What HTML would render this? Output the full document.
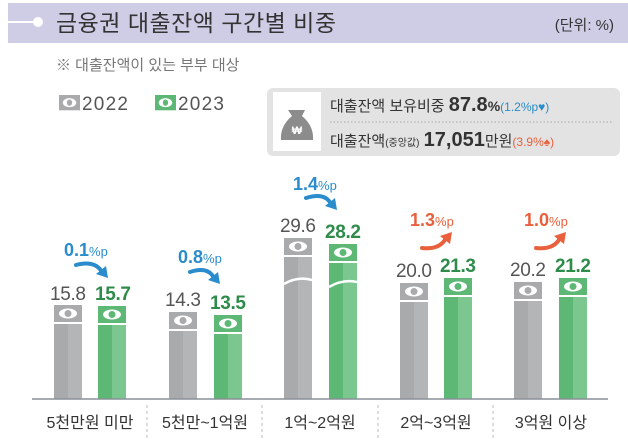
<!DOCTYPE html>
<html><head><meta charset="utf-8"><style>
body{margin:0;background:#fff;}
svg{display:block;font-family:"Liberation Sans","Noto Sans CJK KR",sans-serif;}
</style></head><body>
<svg width="628" height="448" viewBox="0 0 628 448">
<defs>
<g id="gbar"><rect x="0" y="0" width="28" height="17" fill="#a9aaac"/><ellipse cx="14" cy="8.5" rx="9" ry="5" fill="#fff"/><circle cx="14" cy="8.5" r="3.5" fill="#a9aaac"/></g>
<g id="grbar"><rect x="0" y="0" width="28" height="17" fill="#5cb874"/><ellipse cx="14" cy="8.5" rx="9" ry="5" fill="#fff"/><circle cx="14" cy="8.5" r="3.5" fill="#5cb874"/></g>
</defs>
<rect x="8" y="3" width="620" height="40" fill="#cfcde5"/>
<line x1="0" y1="22" x2="36" y2="22" stroke="#fff" stroke-width="2"/>
<circle cx="38" cy="22" r="5" fill="#fff"/>
<text x="56" y="31" font-size="23" fill="#333" textLength="280">금융권 대출잔액 구간별 비중</text>
<text x="614" y="30" font-size="15" fill="#333" text-anchor="end">(단위: %)</text>
<text x="56" y="70" font-size="15" fill="#777">※ 대출잔액이 있는 부부 대상</text>
<use href="#gbar" transform="translate(59,95) scale(0.75,0.9)"/>
<text x="82" y="110" font-size="19" fill="#555" textLength="46">2022</text>
<use href="#grbar" transform="translate(155,95) scale(0.75,0.9)"/>
<text x="178" y="110" font-size="19" fill="#555" textLength="46">2023</text>
<rect x="267" y="88" width="353" height="68" rx="6" fill="#e3e3e3"/>
<rect x="273" y="92" width="48" height="59" fill="#fff"/>
<path d="M288 110 L305 110 L302 116 Q314 126 313 140 L281 140 Q280 126 292 116 Z" fill="#8c8c8c"/>
<text x="297" y="134" font-size="11" font-weight="bold" fill="#fff" text-anchor="middle">₩</text>
<line x1="330" y1="122" x2="612" y2="122" stroke="#aaa" stroke-dasharray="1.5,2"/>
<text x="330" y="111" font-size="15" fill="#333">대출잔액 보유비중 <tspan font-size="20" font-weight="bold">87.8</tspan><tspan font-size="14" font-weight="bold">%</tspan><tspan font-size="12" fill="#2a8ccc">(1.2%p♥)</tspan></text>
<text x="330" y="146" font-size="15" fill="#333">대출잔액<tspan font-size="10">(중앙값)</tspan> <tspan font-size="20" font-weight="bold">17,051</tspan>만원<tspan font-size="12" fill="#e8603c">(3.9%♠)</tspan></text>
<g>
<use href="#gbar" x="54" y="305"/><rect x="54" y="324" width="28" height="75" fill="#a9aaac"/><rect x="68" y="324" width="14" height="75" fill="#b4b5b7"/>
<use href="#grbar" x="98" y="306"/><rect x="98" y="325" width="28" height="74" fill="#5cb874"/><rect x="112" y="325" width="14" height="74" fill="#7cc690"/>
<use href="#gbar" x="169" y="312"/><rect x="169" y="331" width="28" height="68" fill="#a9aaac"/><rect x="183" y="331" width="14" height="68" fill="#b4b5b7"/>
<use href="#grbar" x="214" y="315"/><rect x="214" y="334" width="28" height="65" fill="#5cb874"/><rect x="228" y="334" width="14" height="65" fill="#7cc690"/>
<use href="#gbar" x="284" y="238"/><rect x="284" y="257" width="28" height="142" fill="#a9aaac"/><rect x="298" y="257" width="14" height="142" fill="#b4b5b7"/>
<path d="M284 284 Q298 276 312 280" stroke="#fff" stroke-width="2.5" fill="none"/>
<use href="#grbar" x="329" y="244"/><rect x="329" y="263" width="28" height="136" fill="#5cb874"/><rect x="343" y="263" width="14" height="136" fill="#7cc690"/>
<path d="M329 287 Q343 279 357 282" stroke="#fff" stroke-width="2.5" fill="none"/>
<use href="#gbar" x="400" y="283"/><rect x="400" y="302" width="28" height="97" fill="#a9aaac"/><rect x="414" y="302" width="14" height="97" fill="#b4b5b7"/>
<use href="#grbar" x="444" y="278"/><rect x="444" y="297" width="28" height="102" fill="#5cb874"/><rect x="458" y="297" width="14" height="102" fill="#7cc690"/>
<use href="#gbar" x="514" y="282"/><rect x="514" y="301" width="28" height="98" fill="#a9aaac"/><rect x="528" y="301" width="14" height="98" fill="#b4b5b7"/>
<use href="#grbar" x="559" y="278"/><rect x="559" y="297" width="28" height="102" fill="#5cb874"/><rect x="573" y="297" width="14" height="102" fill="#7cc690"/>
</g>
<line x1="32" y1="399" x2="608" y2="399" stroke="#8a8f98" stroke-width="1.5"/>
<g font-size="19">
<text x="68" y="300" fill="#555" text-anchor="middle" textLength="36">15.8</text>
<text x="113" y="300" fill="#2e8b4a" font-weight="bold" text-anchor="middle" textLength="36">15.7</text>
<text x="183" y="306" fill="#555" text-anchor="middle" textLength="36">14.3</text>
<text x="228" y="309" fill="#2e8b4a" font-weight="bold" text-anchor="middle" textLength="36">13.5</text>
<text x="298" y="232" fill="#555" text-anchor="middle" textLength="36">29.6</text>
<text x="343" y="238" fill="#2e8b4a" font-weight="bold" text-anchor="middle" textLength="36">28.2</text>
<text x="414" y="277" fill="#555" text-anchor="middle" textLength="36">20.0</text>
<text x="458" y="272" fill="#2e8b4a" font-weight="bold" text-anchor="middle" textLength="36">21.3</text>
<text x="528" y="276" fill="#555" text-anchor="middle" textLength="36">20.2</text>
<text x="573" y="272" fill="#2e8b4a" font-weight="bold" text-anchor="middle" textLength="36">21.2</text>
</g>
<g font-size="18" font-weight="bold">
<text x="64" y="256" fill="#2a8ccc">0.1<tspan font-size="13" font-weight="normal">%p</tspan></text>
<text x="178" y="263" fill="#2a8ccc">0.8<tspan font-size="13" font-weight="normal">%p</tspan></text>
<text x="293" y="190" fill="#2a8ccc">1.4<tspan font-size="13" font-weight="normal">%p</tspan></text>
<text x="410" y="226" fill="#e8603c">1.3<tspan font-size="13" font-weight="normal">%p</tspan></text>
<text x="524" y="226" fill="#e8603c">1.0<tspan font-size="13" font-weight="normal">%p</tspan></text>
</g>
<g fill="none" stroke-width="4" stroke-linecap="round">
<path d="M76 265 Q95 260 102 272" stroke="#2a8ccc"/><path d="M96 274 L108 278 L106 266 Z" fill="#2a8ccc" stroke="none"/>
<path d="M190 272 Q208 266 214 278" stroke="#2a8ccc"/><path d="M208 280 L220 284 L218 272 Z" fill="#2a8ccc" stroke="none"/>
<path d="M306 198 Q325 192 331 204" stroke="#2a8ccc"/><path d="M325 206 L337 210 L335 198 Z" fill="#2a8ccc" stroke="none"/>
<path d="M422 248 Q440 250 446 238" stroke="#e8603c"/><path d="M440 236 L452 232 L450 244 Z" fill="#e8603c" stroke="none"/>
<path d="M536 248 Q554 250 560 238" stroke="#e8603c"/><path d="M554 236 L566 232 L564 244 Z" fill="#e8603c" stroke="none"/>
</g>
<g stroke="#bbb" stroke-dasharray="3,3"><line x1="147" y1="405" x2="147" y2="440"/><line x1="262" y1="405" x2="262" y2="440"/><line x1="378" y1="405" x2="378" y2="440"/><line x1="493" y1="405" x2="493" y2="440"/></g>
<g font-size="16" fill="#333" text-anchor="middle">
<text x="90" y="428">5천만원 미만</text>
<text x="205" y="428">5천만~1억원</text>
<text x="320" y="428">1억~2억원</text>
<text x="436" y="428">2억~3억원</text>
<text x="551" y="428">3억원 이상</text>
</g>
</svg>
</body></html>
